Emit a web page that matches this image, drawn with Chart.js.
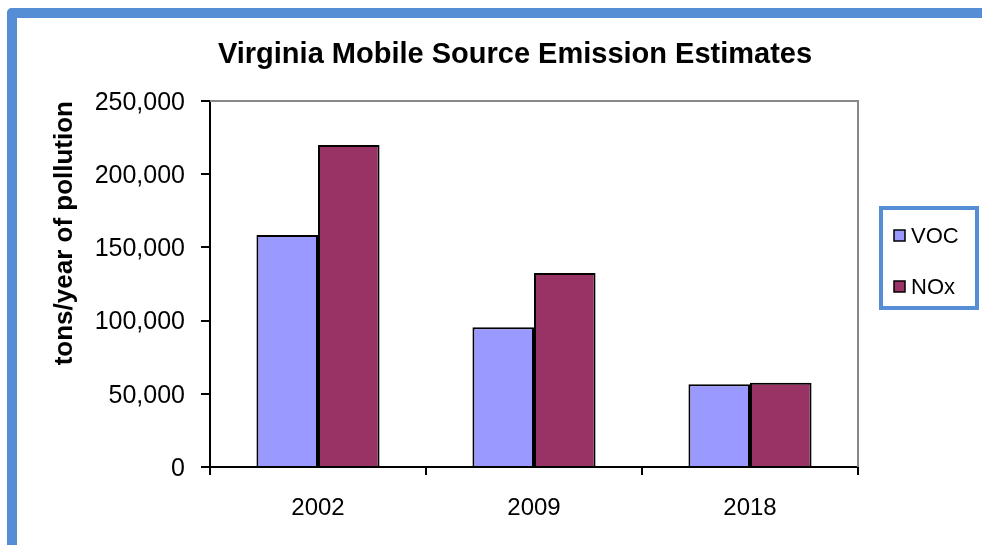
<!DOCTYPE html>
<html>
<head>
<meta charset="utf-8">
<script src="https://cdn.jsdelivr.net/npm/chart.js@4.4.1/dist/chart.umd.min.js"></script>
<style>
    body { margin: 0; background: #fff; overflow: hidden; }
    #frame {
        position: absolute; left: 7px; top: 8px; width: 1200px; height: 800px;
        border-left: 10px solid #558ed5; border-top: 10px solid #558ed5;
        border-top-left-radius: 5px; box-sizing: border-box;
    }
    #wrap { position: absolute; left: 0; top: 0; width: 982px; height: 545px; }
</style>
</head>
<body>
<div id="frame"></div>
<div id="wrap"><canvas id="emissions-chart" width="982" height="545"></canvas></div>
<script>
// Dữ liệu biểu đồ
const years = ['2002', '2009', '2018'];
const vocValues = [158500, 95500, 56500];
const noxValues = [220000, 132500, 57500];
const yTicks = [0, 50000, 100000, 150000, 200000, 250000];

const chartTitle = 'Virginia Mobile Source Emission Estimates';
const yAxisTitle = 'tons/year of pollution';
const FONT = '"Liberation Sans", Arial, sans-serif';

// Khung xám phía trên và bên phải vùng vẽ, tiêu đề và chú thích
const decorPlugin = {
    id: 'decor',
    beforeDatasetsDraw(chart) {
        const { ctx, chartArea: a } = chart;
        ctx.save();
        ctx.strokeStyle = '#888888';
        ctx.lineWidth = 2;
        ctx.beginPath();
        ctx.moveTo(a.left, a.top);
        ctx.lineTo(a.right, a.top);
        ctx.lineTo(a.right, a.bottom);
        ctx.stroke();
        ctx.restore();
    },
    afterDraw(chart) {
        const ctx = chart.ctx;
        ctx.save();
        // Tiêu đề
        ctx.fillStyle = '#000';
        ctx.font = 'bold 29px ' + FONT;
        ctx.textAlign = 'center';
        ctx.textBaseline = 'alphabetic';
        ctx.fillText(chartTitle, 515, 63);

        // Chú thích
        ctx.strokeStyle = '#558ed5';
        ctx.lineWidth = 4;
        ctx.strokeRect(881, 208, 96, 100);
        ctx.font = '22px ' + FONT;
        ctx.textAlign = 'left';
        ctx.textBaseline = 'middle';
        chart.data.datasets.forEach((ds, i) => {
            const cy = 236 + i * 51;
            ctx.fillStyle = ds.backgroundColor;
            ctx.fillRect(894, cy - 6, 11, 11);
            ctx.strokeStyle = '#000';
            ctx.lineWidth = 1.5;
            ctx.strokeRect(894, cy - 6, 11, 11);
            ctx.fillStyle = '#000';
            ctx.fillText(ds.label, 911, cy + 1);
        });
        ctx.restore();
    }
};

const canvas = document.getElementById('emissions-chart');
new Chart(canvas, {
    type: 'bar',
    data: {
        labels: years,
        datasets: [
            {
                label: 'VOC',
                data: vocValues,
                backgroundColor: '#9999ff',
                borderColor: '#000',
                borderWidth: 2
            },
            {
                label: 'NOx',
                data: noxValues,
                backgroundColor: '#993366',
                borderColor: '#000',
                borderWidth: 2
            }
        ]
    },
    options: {
        responsive: false,
        animation: false,
        devicePixelRatio: 1,
        layout: { padding: { left: 20, top: 101, right: 124, bottom: 0 } },
        datasets: { bar: { categoryPercentage: 0.57, barPercentage: 1.0 } },
        plugins: {
            legend: { display: false },
            title: { display: false },
            tooltip: { enabled: false }
        },
        scales: {
            x: {
                afterFit: s => { s.height = 78; },
                grid: { offset: true, drawOnChartArea: false, tickLength: 8, color: '#000', lineWidth: 2 },
                border: { color: '#000', width: 2 },
                ticks: { color: '#000', padding: 19, font: { family: FONT, size: 24 } }
            },
            y: {
                min: 0,
                max: 250000,
                afterFit: s => { s.width = 190; },
                afterBuildTicks: s => { s.ticks = yTicks.map(v => ({ value: v })); },
                grid: { drawOnChartArea: false, tickLength: 9, color: '#000', lineWidth: 2 },
                border: { color: '#000', width: 2 },
                ticks: {
                    color: '#000',
                    padding: 16,
                    labelOffset: 2,
                    font: { family: FONT, size: 25 },
                    callback: v => v.toLocaleString('en-US')
                },
                title: {
                    display: true,
                    text: yAxisTitle,
                    align: 'end',
                    color: '#000',
                    padding: { top: 29, bottom: 0 },
                    font: { family: FONT, size: 26, weight: 'bold' }
                }
            }
        }
    },
    plugins: [decorPlugin]
});
</script>
</body>
</html>
